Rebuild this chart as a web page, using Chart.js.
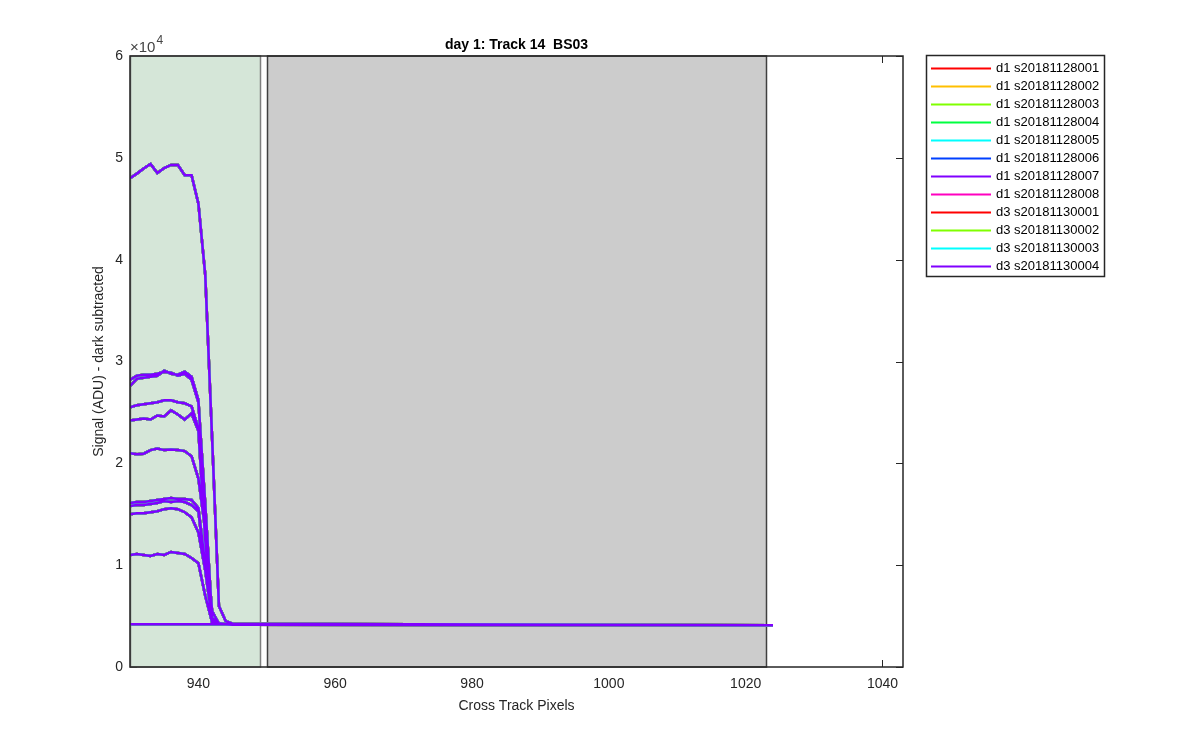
<!DOCTYPE html>
<html>
<head>
<meta charset="utf-8">
<script src="https://cdn.jsdelivr.net/npm/chart.js@4/dist/chart.umd.min.js"></script>
<style>
    html, body { margin: 0; padding: 0; background: #ffffff; }
</style>
</head>
<body>
<canvas id="trackChart" width="1200" height="750"></canvas>
<script>
// 가로축 위치 (Cross Track Pixels)
const pixelColumns = [930, 931, 932, 933, 934, 935, 936, 937, 938, 939, 940, 941, 942, 943, 944, 945, 1024];

// 밝기별 프로파일 (ADU)
const level49k = [48000, 48450, 48950, 49400, 48500, 49000, 49300, 49300, 48300, 48300, 45500, 38500, 22500, 6000, 4500, 4250, 4100];
const level28kHigh = [28200, 28600, 28700, 28700, 28800, 29000, 28900, 28600, 28800, 28200, 26000, 16000, 4800, 4300, 4200, 4200, 4100];
const level28kLow = [27600, 28300, 28400, 28500, 28600, 29100, 28800, 28700, 29000, 28500, 26200, 15500, 4400, 4200, 4200, 4200, 4100];
const level26k = [25500, 25700, 25800, 25900, 26000, 26200, 26200, 26000, 25900, 25600, 23400, 13500, 4600, 4200, 4200, 4200, 4100];
const level24k = [24200, 24300, 24400, 24300, 24700, 24600, 25200, 24800, 24300, 24900, 23200, 12500, 4500, 4200, 4200, 4200, 4100];
const level21k = [21000, 20900, 20950, 21300, 21450, 21300, 21350, 21300, 21200, 20700, 18500, 13500, 5500, 4250, 4200, 4200, 4100];
const level16kHigh = [16100, 16200, 16200, 16300, 16400, 16500, 16600, 16500, 16500, 16400, 15600, 10000, 4700, 4200, 4200, 4200, 4100];
const level16kLow = [15800, 15900, 15900, 16000, 16100, 16300, 16200, 16300, 16200, 15900, 15300, 9500, 4600, 4200, 4200, 4200, 4100];
const level15k = [15000, 15100, 15100, 15200, 15300, 15500, 15600, 15500, 15200, 14700, 13200, 9500, 4600, 4200, 4200, 4200, 4100];
const level11k = [11000, 11100, 11000, 10900, 11100, 11000, 11300, 11200, 11100, 10700, 10200, 7000, 4400, 4200, 4200, 4200, 4100];
const levelDark = [4200, 4200, 4200, 4200, 4200, 4200, 4200, 4200, 4200, 4200, 4200, 4200, 4200, 4200, 4200, 4150, 4100];

const profiles = [levelDark, level11k, level15k, level16kLow, level16kHigh, level21k, level24k, level26k, level28kLow, level28kHigh, level49k];

// 범례 이름과 색
const seriesNames = ['d1 s20181128001', 'd1 s20181128002', 'd1 s20181128003', 'd1 s20181128004',
    'd1 s20181128005', 'd1 s20181128006', 'd1 s20181128007', 'd1 s20181128008',
    'd3 s20181130001', 'd3 s20181130002', 'd3 s20181130003', 'd3 s20181130004'];
const seriesColors = ['#FF0000', '#FFBF00', '#80FF00', '#00FF40', '#00FFFF', '#0040FF',
    '#8000FF', '#FF00BF', '#FF0000', '#80FF00', '#00FFFF', '#8000FF'];

// 눈금
const xTicks = [940, 960, 980, 1000, 1020, 1040];
const yTicks = [0, 10000, 20000, 30000, 40000, 50000, 60000];

// 음영 구간
const shadeRegions = [[930, 949], [950, 1023]];
const shadeFills = ['#D5E6D8', '#CCCCCC'];
const shadeEdges = ['#7F7F7F', '#404040'];

const axisColor = '#262626';
const fontFamily = '"Liberation Sans", Arial, Helvetica, sans-serif';

// 프로파일들을 null 로 끊어서 하나의 데이터셋으로
function buildSeriesData() {
    const points = [];
    profiles.forEach(profile => {
        profile.forEach((v, i) => points.push({ x: pixelColumns[i], y: v }));
        points.push({ x: pixelColumns[pixelColumns.length - 1], y: null });
    });
    return points;
}

const datasets = seriesNames.map((name, i) => ({
    label: name,
    data: buildSeriesData(),
    borderColor: seriesColors[i],
    backgroundColor: seriesColors[i],
    borderWidth: 2.5,
    pointRadius: 0,
    fill: false,
    tension: 0,
    spanGaps: false,
    order: seriesNames.length - 1 - i
}));

// MATLAB 스타일 축, 음영, 범례
const matlabStyle = {
    id: 'matlabStyle',
    beforeDatasetsDraw(chart) {
        const ctx = chart.ctx;
        const { left, right, top, bottom } = chart.chartArea;
        const xs = chart.scales.x, ys = chart.scales.y;
        ctx.save();
        // 안쪽 눈금
        ctx.strokeStyle = axisColor;
        ctx.lineWidth = 1;
        xTicks.forEach(v => {
            const px = Math.round(xs.getPixelForValue(v)) + 0.5;
            ctx.beginPath();
            ctx.moveTo(px, bottom); ctx.lineTo(px, bottom - 7);
            ctx.moveTo(px, top); ctx.lineTo(px, top + 7);
            ctx.stroke();
        });
        yTicks.forEach(v => {
            const py = Math.round(ys.getPixelForValue(v)) + 0.5;
            ctx.beginPath();
            ctx.moveTo(left, py); ctx.lineTo(left + 7, py);
            ctx.moveTo(right, py); ctx.lineTo(right - 7, py);
            ctx.stroke();
        });
        // 음영 구간
        shadeRegions.forEach((r, i) => {
            const x1 = Math.round(xs.getPixelForValue(r[0])) + 0.5;
            const x2 = Math.round(xs.getPixelForValue(r[1])) + 0.5;
            ctx.fillStyle = shadeFills[i];
            ctx.fillRect(x1, top, x2 - x1, bottom - top);
            ctx.strokeStyle = shadeEdges[i];
            ctx.lineWidth = 1.5;
            ctx.strokeRect(x1, top, x2 - x1, bottom - top);
        });
        ctx.restore();
    },
    afterDatasetsDraw(chart) {
        const ctx = chart.ctx;
        const { left, right, top, bottom } = chart.chartArea;
        ctx.save();
        // 축 상자
        ctx.strokeStyle = axisColor;
        ctx.lineWidth = 1.5;
        ctx.strokeRect(left, top, right - left, bottom - top);

        ctx.fillStyle = '#000000';
        // 제목
        ctx.font = 'bold 14px ' + fontFamily;
        ctx.textAlign = 'center';
        ctx.textBaseline = 'middle';
        ctx.fillText('day 1: Track 14  BS03', (left + right) / 2, 45);

        // 축 제목
        ctx.fillStyle = axisColor;
        ctx.font = '14px ' + fontFamily;
        ctx.fillText('Cross Track Pixels', (left + right) / 2, 706);
        ctx.save();
        ctx.translate(99, (top + bottom) / 2);
        ctx.rotate(-Math.PI / 2);
        ctx.fillText('Signal (ADU) - dark subtracted', 0, 0);
        ctx.restore();

        // 지수 표시
        ctx.textAlign = 'left';
        ctx.textBaseline = 'alphabetic';
        ctx.fillStyle = '#444444';
        ctx.font = '15px ' + fontFamily;
        ctx.fillText('\u00d710', 130, 52);
        const w = ctx.measureText('\u00d710').width;
        ctx.font = '12px ' + fontFamily;
        ctx.fillText('4', 130 + w + 1, 44);

        // 범례
        const lx = 926.5, ly = 55.5, lw = 178, lh = 221;
        ctx.fillStyle = '#ffffff';
        ctx.fillRect(lx, ly, lw, lh);
        ctx.strokeStyle = axisColor;
        ctx.lineWidth = 1.5;
        ctx.strokeRect(lx, ly, lw, lh);
        ctx.font = '13px ' + fontFamily;
        ctx.textBaseline = 'middle';
        seriesNames.forEach((name, i) => {
            const y = 68.5 + i * 18;
            ctx.strokeStyle = seriesColors[i];
            ctx.lineWidth = 2;
            ctx.beginPath();
            ctx.moveTo(931, y); ctx.lineTo(991, y);
            ctx.stroke();
            ctx.fillStyle = '#000000';
            ctx.fillText(name, 996, y);
        });
        ctx.restore();
    }
};

new Chart(document.getElementById('trackChart'), {
    type: 'line',
    data: { datasets: datasets },
    options: {
        responsive: false,
        animation: false,
        events: [],
        layout: { padding: { left: 0, top: 56, right: 297, bottom: 0 } },
        plugins: {
            legend: { display: false },
            title: { display: false },
            tooltip: { enabled: false }
        },
        scales: {
            x: {
                type: 'linear',
                min: 930,
                max: 1043,
                grid: { display: false, drawTicks: false },
                border: { display: false },
                afterBuildTicks: scale => { scale.ticks = xTicks.map(v => ({ value: v })); },
                afterFit: scale => { scale.height = 83; },
                ticks: {
                    color: axisColor,
                    padding: 9,
                    maxRotation: 0,
                    font: { family: fontFamily, size: 14 },
                    callback: v => String(v)
                }
            },
            y: {
                type: 'linear',
                min: 0,
                max: 60000,
                grid: { display: false, drawTicks: false },
                border: { display: false },
                afterBuildTicks: scale => { scale.ticks = yTicks.map(v => ({ value: v })); },
                afterFit: scale => { scale.width = 130; },
                ticks: {
                    color: axisColor,
                    padding: 7,
                    font: { family: fontFamily, size: 14 },
                    callback: v => String(v / 10000)
                }
            }
        }
    },
    plugins: [matlabStyle]
});
</script>
</body>
</html>
